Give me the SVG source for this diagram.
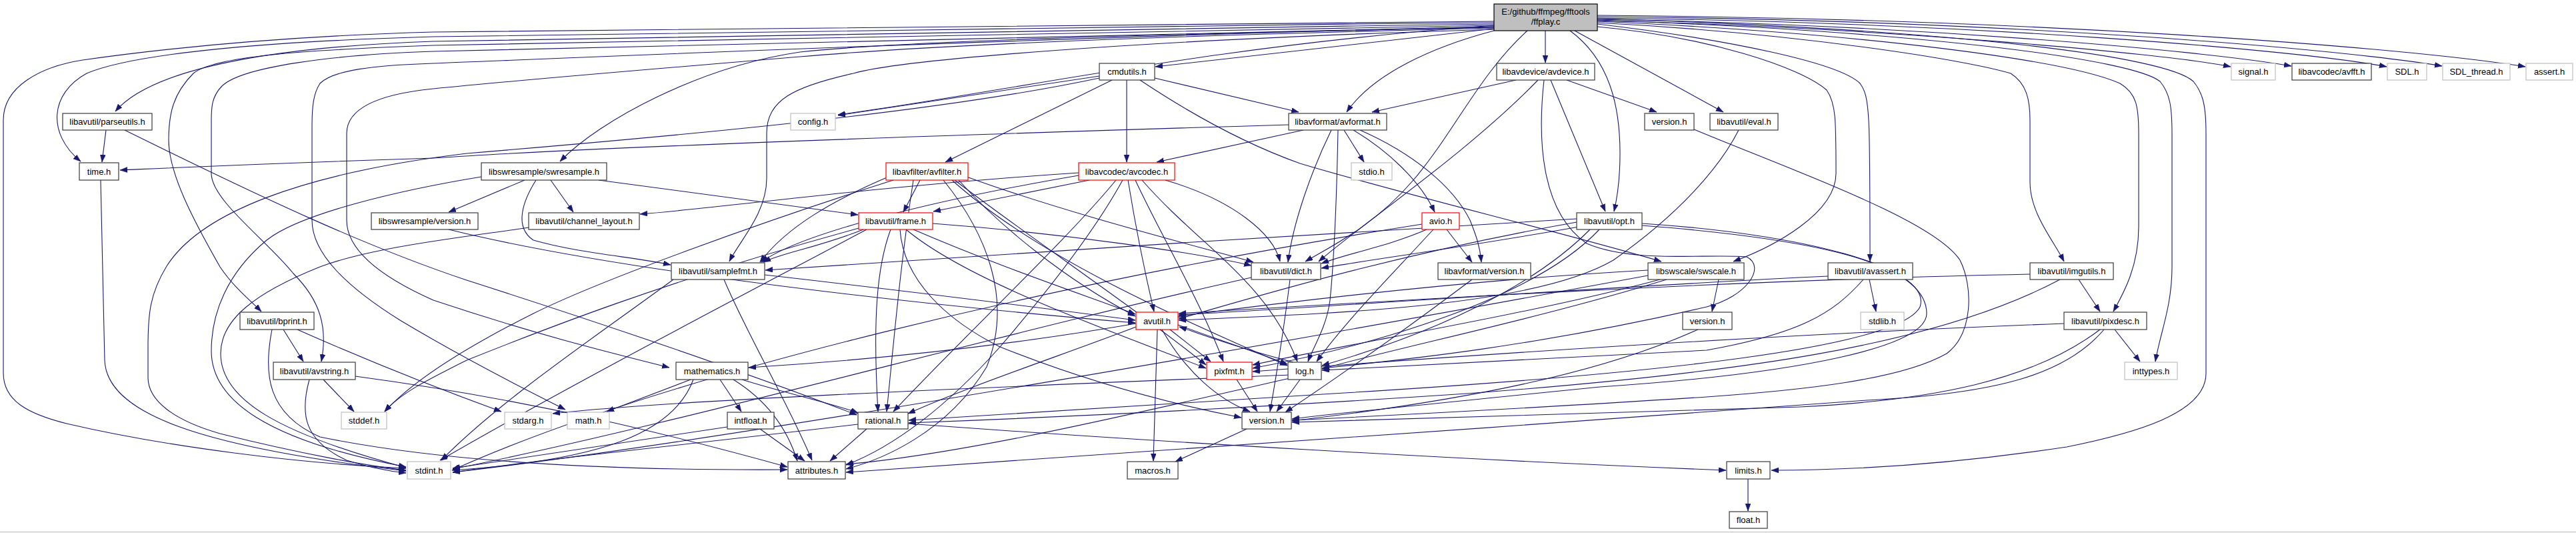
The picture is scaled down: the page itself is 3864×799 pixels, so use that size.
<svg xmlns="http://www.w3.org/2000/svg" width="3864" height="799" viewBox="0 0 3864 799">
<style>
.bg{fill:#ffffff}
.edges path{fill:none;stroke:#191970;stroke-width:1.1;marker-end:url(#ah)}
.node rect{fill:#ffffff;stroke:#3a3a3a;stroke-width:1.2}
.node.ext rect{stroke:#bfbfbf}
.node.red rect{stroke:#ff0000}
.node.root rect{fill:#bfbfbf;stroke:#000000}
.node text{font-family:"Liberation Sans",Arial,sans-serif;font-size:13px;fill:#000000;text-anchor:middle}
</style>
<defs>
<marker id="ah" markerUnits="userSpaceOnUse" markerWidth="12" markerHeight="9" refX="11" refY="4" orient="auto">
<path d="M0,0 L11,4 L0,8 z" fill="#191970" stroke="#191970" stroke-width="0.5"/>
</marker>
</defs>
<rect class="bg" x="0" y="0" width="3864" height="799"/>
<line x1="0" y1="797.5" x2="3864" y2="797.5" stroke="#bbbbbb" stroke-width="1"/>
<g id="edges" class="edges">
<path d="M2241,43 L1733,100"/>
<path d="M2318,46 L2318,94"/>
<path d="M2396,31 C2800,40 3250,80 3346,100"/>
<path d="M2396,29 C2850,36 3300,75 3437,99"/>
<path d="M2396,27 C2950,33 3450,75 3580,100"/>
<path d="M2396,25 C3000,30 3500,72 3663,99"/>
<path d="M2396,23 C3050,28 3600,70 3788,100"/>
<path d="M2241,36 C1600,45 900,55 650,62 C420,70 230,100 173,167"/>
<path d="M2241,34 C1600,40 900,48 650,55 C400,62 200,80 130,110 C75,140 70,200 121,242"/>
<path d="M2241,32 C1500,38 900,42 650,48 C400,55 230,75 124,90 C60,100 5,130 5,180 L5,559 C5,600 40,620 100,635 C250,670 450,695 609,702"/>
<path d="M2241,38 C1800,70 1500,140 1257,172"/>
<path d="M2241,41 C1700,52 1350,62 1200,78 C1050,100 900,180 840,242"/>
<path d="M2241,44 C1700,60 1350,90 1280,110 C1190,130 1150,150 1150,200 L1150,267 C1150,320 1110,360 1094,392"/>
<path d="M2241,46 C2150,70 2060,110 2020,168"/>
<path d="M2291,46 C2220,110 2180,200 2120,270 C2060,340 1995,370 1958,392"/>
<path d="M2355,46 C2415,90 2430,160 2430,230 C2430,275 2425,300 2421,317"/>
<path d="M2362,46 L2585,168"/>
<path d="M2396,40 C2560,55 2700,100 2740,135 C2754,155 2754,180 2754,260 C2754,320 2660,370 2600,392"/>
<path d="M2396,36 C2600,60 2760,95 2790,125 C2805,145 2805,170 2805,392"/>
<path d="M2396,34 C2700,50 2950,90 3016,110 C3040,125 3045,150 3045,180 L3045,273 C3045,320 3080,360 3096,392"/>
<path d="M2396,32 C2800,50 3100,90 3180,125 C3205,140 3208,160 3208,200 L3208,340 C3208,400 3185,440 3170,467"/>
<path d="M2396,30 C2900,48 3200,90 3240,122 C3255,140 3258,160 3258,200 L3258,400 C3258,460 3240,500 3233,542"/>
<path d="M2396,28 C2950,45 3250,85 3290,122 C3305,140 3309,160 3309,200 L3309,560 C3309,620 3200,650 3100,670 C2900,700 2750,705 2657,705"/>
<path d="M2241,38 C1500,50 900,60 650,68 C450,75 320,85 290,110 C260,140 253,170 253,210 C253,260 290,330 330,400 C350,430 375,450 392,467"/>
<path d="M2241,40 C1500,55 900,70 650,77 C500,82 360,100 332,130 C318,145 317,160 317,180 L317,260 C317,300 400,360 440,410 C480,450 492,490 482,542"/>
<path d="M2241,42 C1700,55 1400,68 1200,85 C1000,102 800,118 650,133 C560,142 520,165 520,200 L520,330 C520,370 560,410 650,450 C800,500 900,525 1004,551"/>
<path d="M2241,40 C1600,55 900,85 650,95 C560,98 500,105 480,125 C470,140 468,160 468,190 L468,330 C468,380 520,430 600,480 C700,540 800,590 848,614"/>
<path d="M1649,114 L1257,173"/>
<path d="M1649,117 C1400,170 1000,205 700,230 C450,260 300,320 250,399 C225,440 222,470 222,520 L222,566 C222,600 260,630 330,650 C450,680 550,698 609,705"/>
<path d="M1690,120 L1690,243"/>
<path d="M1668,120 L1418,243"/>
<path d="M1732,117 L1948,168"/>
<path d="M1710,120 C1800,180 1880,220 1950,245 C2100,290 2350,350 2492,392"/>
<path d="M2274,120 L2058,168"/>
<path d="M2307,120 C2200,230 2050,330 1978,392"/>
<path d="M2316,120 C2305,220 2315,320 2380,365 C2450,395 2560,380 2620,385 C2650,400 2620,445 2560,460 C2300,520 2100,540 1983,552"/>
<path d="M2326,120 L2408,317"/>
<path d="M2350,120 L2485,168"/>
<path d="M2541,194 C2700,260 2900,330 2940,390 C2960,430 2960,500 2920,530 C2850,570 2700,585 2560,595 C2300,612 2100,622 1938,630"/>
<path d="M2608,195 C2580,250 2520,320 2420,390 C2300,460 2000,470 1768,480"/>
<path d="M159,195 L153,243"/>
<path d="M187,195 C400,300 550,370 700,420 C950,500 1150,570 1285,622"/>
<path d="M1933,187 C1500,200 900,220 650,237 C400,245 250,252 180,255"/>
<path d="M2016,195 L2046,243"/>
<path d="M1955,195 L1735,243"/>
<path d="M1997,195 C1970,250 1940,330 1932,393"/>
<path d="M2007,195 C2005,300 2000,400 1995,450 C1990,490 1970,520 1962,542"/>
<path d="M2030,195 C2080,225 2130,270 2152,318"/>
<path d="M2040,195 C2120,230 2180,280 2205,330 C2215,355 2220,370 2222,393"/>
<path d="M151,270 L157,540 C160,620 300,670 609,706"/>
<path d="M722,265 C600,285 450,320 400,360 C340,410 317,470 317,526 C317,600 400,660 609,700"/>
<path d="M826,270 L860,318"/>
<path d="M898,270 L1287,322"/>
<path d="M804,270 C785,300 770,340 800,360 C870,380 950,385 1006,397"/>
<path d="M787,270 L673,318"/>
<path d="M1340,270 C1150,330 900,420 800,470 C700,520 620,570 577,617"/>
<path d="M1415,270 C1480,350 1520,450 1480,550 C1420,650 1320,690 1269,703"/>
<path d="M1438,270 C1500,340 1600,420 1703,474"/>
<path d="M1450,265 C1600,320 1800,370 1880,393"/>
<path d="M1380,270 L1355,318"/>
<path d="M1428,270 C1550,380 1750,470 1931,548"/>
<path d="M1335,264 C1250,300 1180,340 1140,393"/>
<path d="M1432,270 C1550,360 1700,460 1809,547"/>
<path d="M1370,270 C1350,400 1340,520 1330,617"/>
<path d="M1618,263 C1400,300 1200,350 1142,393"/>
<path d="M1684,270 C1640,350 1560,450 1500,520 C1420,610 1340,670 1269,697"/>
<path d="M1692,270 C1705,350 1720,420 1731,467"/>
<path d="M1618,259 C1300,280 1100,310 960,321"/>
<path d="M1748,270 C1850,300 1910,350 1920,392"/>
<path d="M1634,270 L1400,317"/>
<path d="M1713,270 C1800,370 1900,420 1946,542"/>
<path d="M1703,270 C1740,350 1800,450 1835,542"/>
<path d="M1674,270 C1600,360 1450,500 1340,617"/>
<path d="M673,344 C900,400 1300,450 1703,484"/>
<path d="M793,341 C700,355 560,370 480,400 C380,440 331,480 331,530 C331,600 420,650 609,701"/>
<path d="M1292,341 C1000,420 800,500 700,540 C640,570 600,590 577,617"/>
<path d="M1300,344 C1100,450 850,580 660,690"/>
<path d="M1370,344 C1500,400 1620,440 1703,471"/>
<path d="M1399,335 C1600,350 1800,380 1877,398"/>
<path d="M1336,344 C1315,400 1309,480 1317,617"/>
<path d="M1295,344 C1230,370 1170,380 1145,393"/>
<path d="M1359,344 C1450,420 1650,490 1809,552"/>
<path d="M1350,344 C1355,420 1420,480 1500,520 C1650,580 1780,610 1862,626"/>
<path d="M2133,336 C1600,420 1000,560 678,705"/>
<path d="M2140,344 C2080,370 2020,380 1982,395"/>
<path d="M2150,344 C2080,420 2020,480 1975,542"/>
<path d="M2170,344 L2208,393"/>
<path d="M2365,333 C2100,380 1900,440 1768,478"/>
<path d="M2368,340 C2200,370 2050,390 1982,402"/>
<path d="M2385,344 C2300,430 2150,500 1983,548"/>
<path d="M2399,344 C2300,450 2050,520 1879,552"/>
<path d="M2463,335 C2700,350 2900,400 2880,460 C2850,520 2500,560 2000,590 C1700,610 1500,620 1363,630"/>
<path d="M2365,328 C2000,350 1500,380 1148,405"/>
<path d="M2463,338 C2750,360 2890,400 2890,470 C2890,520 2700,560 2400,580 C2200,600 2000,620 1938,628"/>
<path d="M1010,419 C900,500 750,600 662,690"/>
<path d="M1147,412 C1350,435 1550,460 1703,480"/>
<path d="M1086,419 C1120,500 1180,600 1218,690"/>
<path d="M1877,416 C1500,500 1000,640 679,703"/>
<path d="M1935,419 C1925,500 1915,560 1905,617"/>
<path d="M2208,419 C2100,500 2000,570 1928,618"/>
<path d="M2472,413 C2000,500 1100,660 679,708"/>
<path d="M2472,405 C2200,420 1950,450 1768,474"/>
<path d="M2500,419 C2300,480 2100,520 1983,553"/>
<path d="M2490,419 C2300,470 2050,510 1879,547"/>
<path d="M2578,419 L2568,467"/>
<path d="M2804,419 L2814,467"/>
<path d="M2742,414 C2400,430 2000,460 1768,472"/>
<path d="M2795,419 C2750,470 2700,500 2560,525 C2300,540 2100,548 1983,555"/>
<path d="M3045,411 C2600,420 2100,450 1768,470"/>
<path d="M3118,419 L3150,467"/>
<path d="M3090,419 C2900,520 2600,560 2200,590 C1900,610 1600,625 1363,634"/>
<path d="M446,494 C550,540 650,580 752,617"/>
<path d="M408,494 C395,560 400,620 480,655 C700,700 1000,705 1181,704"/>
<path d="M425,494 L455,542"/>
<path d="M2547,494 C2400,560 2200,600 1938,631"/>
<path d="M3172,494 L3210,542"/>
<path d="M3156,494 C3100,560 3000,590 2800,600 C2300,640 1600,680 1269,708"/>
<path d="M3096,485 C2700,500 2300,525 1879,557"/>
<path d="M3150,494 C3050,570 2900,600 2700,610 C2400,620 2100,628 1938,633"/>
<path d="M485,569 L531,617"/>
<path d="M464,569 C450,620 455,660 520,690 C560,703 590,707 609,709"/>
<path d="M533,564 C800,600 1000,650 1181,700"/>
<path d="M1040,569 C1010,650 900,690 679,705"/>
<path d="M1036,569 L910,617"/>
<path d="M1100,569 C1150,600 1180,640 1196,691"/>
<path d="M1113,569 C1180,590 1250,605 1287,619"/>
<path d="M1080,569 L1112,617"/>
<path d="M1855,569 L1886,617"/>
<path d="M1935,562 C1500,580 1000,600 829,620"/>
<path d="M1940,543 C1850,520 1800,500 1769,490"/>
<path d="M1935,567 C1700,620 1450,680 1269,696"/>
<path d="M1950,569 L1915,617"/>
<path d="M1091,640 C900,670 750,690 679,702"/>
<path d="M1140,643 L1207,691"/>
<path d="M1287,636 C1000,670 800,690 679,708"/>
<path d="M1362,635 C1700,660 2200,690 2589,705"/>
<path d="M1300,643 L1245,691"/>
<path d="M1870,643 L1763,692"/>
<path d="M1736,494 L1730,691"/>
<path d="M1743,494 C1780,560 1830,600 1875,617"/>
<path d="M1704,490 C1600,530 1450,580 1362,620"/>
<path d="M1704,485 C1500,520 1300,540 1123,551"/>
<path d="M1767,487 C1830,510 1890,530 1931,546"/>
<path d="M1755,494 L1816,542"/>
<path d="M2622,718 L2622,766"/>
</g>
<g id="n_ffplay" class="node root"><rect x="2241" y="6" width="155" height="40"/><text x="2318.5" y="22">E:/github/ffmpeg/fftools</text><text x="2318.5" y="37">/ffplay.c</text></g>
<g id="n_cmdutils" class="node"><rect x="1649" y="95" width="83" height="25"/><text x="1690.5" y="112">cmdutils.h</text></g>
<g id="n_avdevice" class="node"><rect x="2245" y="95" width="147" height="25"/><text x="2318.5" y="112">libavdevice/avdevice.h</text></g>
<g id="n_signal" class="node ext"><rect x="3347" y="95" width="66" height="25"/><text x="3380" y="112">signal.h</text></g>
<g id="n_avfft" class="node"><rect x="3438" y="95" width="119" height="25"/><text x="3497.5" y="112">libavcodec/avfft.h</text></g>
<g id="n_sdl" class="node ext"><rect x="3581" y="95" width="59" height="25"/><text x="3610.5" y="112">SDL.h</text></g>
<g id="n_sdlthread" class="node ext"><rect x="3664" y="95" width="101" height="25"/><text x="3714.5" y="112">SDL_thread.h</text></g>
<g id="n_assert" class="node ext"><rect x="3789" y="95" width="70" height="25"/><text x="3824" y="112">assert.h</text></g>
<g id="n_parseutils" class="node"><rect x="94" y="170" width="134" height="25"/><text x="161" y="187">libavutil/parseutils.h</text></g>
<g id="n_config" class="node ext"><rect x="1186" y="170" width="67" height="25"/><text x="1219.5" y="187">config.h</text></g>
<g id="n_avformat" class="node"><rect x="1933" y="170" width="147" height="25"/><text x="2006.5" y="187">libavformat/avformat.h</text></g>
<g id="n_devversion" class="node"><rect x="2467" y="170" width="74" height="25"/><text x="2504" y="187">version.h</text></g>
<g id="n_eval" class="node"><rect x="2565" y="170" width="102" height="25"/><text x="2616" y="187">libavutil/eval.h</text></g>
<g id="n_time" class="node"><rect x="119" y="244" width="59" height="26"/><text x="148.5" y="261.5">time.h</text></g>
<g id="n_swresample" class="node"><rect x="722" y="244" width="188" height="26"/><text x="816" y="261.5">libswresample/swresample.h</text></g>
<g id="n_avfilter" class="node red"><rect x="1329" y="244" width="123" height="26"/><text x="1390.5" y="261.5">libavfilter/avfilter.h</text></g>
<g id="n_avcodec" class="node red"><rect x="1618" y="244" width="144" height="26"/><text x="1690" y="261.5">libavcodec/avcodec.h</text></g>
<g id="n_stdio" class="node ext"><rect x="2027" y="244" width="61" height="26"/><text x="2057.5" y="261.5">stdio.h</text></g>
<g id="n_swrversion" class="node"><rect x="557" y="319" width="160" height="25"/><text x="637" y="336">libswresample/version.h</text></g>
<g id="n_channel_layout" class="node"><rect x="793" y="319" width="166" height="25"/><text x="876" y="336">libavutil/channel_layout.h</text></g>
<g id="n_frame" class="node red"><rect x="1288" y="319" width="111" height="25"/><text x="1343.5" y="336">libavutil/frame.h</text></g>
<g id="n_avio" class="node red"><rect x="2133" y="319" width="56" height="25"/><text x="2161" y="336">avio.h</text></g>
<g id="n_opt" class="node"><rect x="2365" y="319" width="98" height="25"/><text x="2414" y="336">libavutil/opt.h</text></g>
<g id="n_samplefmt" class="node"><rect x="1007" y="394" width="140" height="25"/><text x="1077" y="411">libavutil/samplefmt.h</text></g>
<g id="n_dict" class="node"><rect x="1877" y="394" width="104" height="25"/><text x="1929" y="411">libavutil/dict.h</text></g>
<g id="n_fmtversion" class="node"><rect x="2157" y="394" width="139" height="25"/><text x="2226.5" y="411">libavformat/version.h</text></g>
<g id="n_swscale" class="node"><rect x="2472" y="394" width="144" height="25"/><text x="2544" y="411">libswscale/swscale.h</text></g>
<g id="n_avassert" class="node"><rect x="2742" y="394" width="127" height="25"/><text x="2805.5" y="411">libavutil/avassert.h</text></g>
<g id="n_imgutils" class="node"><rect x="3045" y="394" width="125" height="25"/><text x="3107.5" y="411">libavutil/imgutils.h</text></g>
<g id="n_bprint" class="node"><rect x="360" y="468" width="111" height="26"/><text x="415.5" y="485.5">libavutil/bprint.h</text></g>
<g id="n_avutil" class="node red"><rect x="1704" y="468" width="63" height="26"/><text x="1735.5" y="485.5">avutil.h</text></g>
<g id="n_swsversion" class="node"><rect x="2524" y="468" width="74" height="26"/><text x="2561" y="485.5">version.h</text></g>
<g id="n_stdlib" class="node ext"><rect x="2791" y="468" width="65" height="26"/><text x="2823.5" y="485.5">stdlib.h</text></g>
<g id="n_pixdesc" class="node"><rect x="3096" y="468" width="124" height="26"/><text x="3158" y="485.5">libavutil/pixdesc.h</text></g>
<g id="n_avstring" class="node"><rect x="410" y="543" width="123" height="26"/><text x="471.5" y="560.5">libavutil/avstring.h</text></g>
<g id="n_mathematics" class="node"><rect x="1014" y="543" width="108" height="26"/><text x="1068" y="560.5">mathematics.h</text></g>
<g id="n_pixfmt" class="node red"><rect x="1810" y="543" width="68" height="26"/><text x="1844" y="560.5">pixfmt.h</text></g>
<g id="n_log" class="node"><rect x="1932" y="543" width="50" height="26"/><text x="1957" y="560.5">log.h</text></g>
<g id="n_inttypes" class="node ext"><rect x="3187" y="543" width="79" height="26"/><text x="3226.5" y="560.5">inttypes.h</text></g>
<g id="n_stddef" class="node ext"><rect x="512" y="618" width="68" height="25"/><text x="546" y="635">stddef.h</text></g>
<g id="n_stdarg" class="node ext"><rect x="757" y="618" width="70" height="25"/><text x="792" y="635">stdarg.h</text></g>
<g id="n_math" class="node ext"><rect x="851" y="618" width="63" height="25"/><text x="882.5" y="635">math.h</text></g>
<g id="n_intfloat" class="node"><rect x="1091" y="618" width="70" height="25"/><text x="1126" y="635">intfloat.h</text></g>
<g id="n_rational" class="node"><rect x="1287" y="618" width="75" height="25"/><text x="1324.5" y="635">rational.h</text></g>
<g id="n_version" class="node"><rect x="1863" y="618" width="74" height="25"/><text x="1900" y="635">version.h</text></g>
<g id="n_stdint" class="node ext"><rect x="611" y="692" width="65" height="26"/><text x="643.5" y="709.5">stdint.h</text></g>
<g id="n_attributes" class="node"><rect x="1182" y="692" width="86" height="26"/><text x="1225" y="709.5">attributes.h</text></g>
<g id="n_macros" class="node"><rect x="1691" y="692" width="76" height="26"/><text x="1729" y="709.5">macros.h</text></g>
<g id="n_limits" class="node"><rect x="2590" y="692" width="65" height="26"/><text x="2622.5" y="709.5">limits.h</text></g>
<g id="n_float" class="node"><rect x="2594" y="767" width="57" height="25"/><text x="2622.5" y="784">float.h</text></g>
</svg>
